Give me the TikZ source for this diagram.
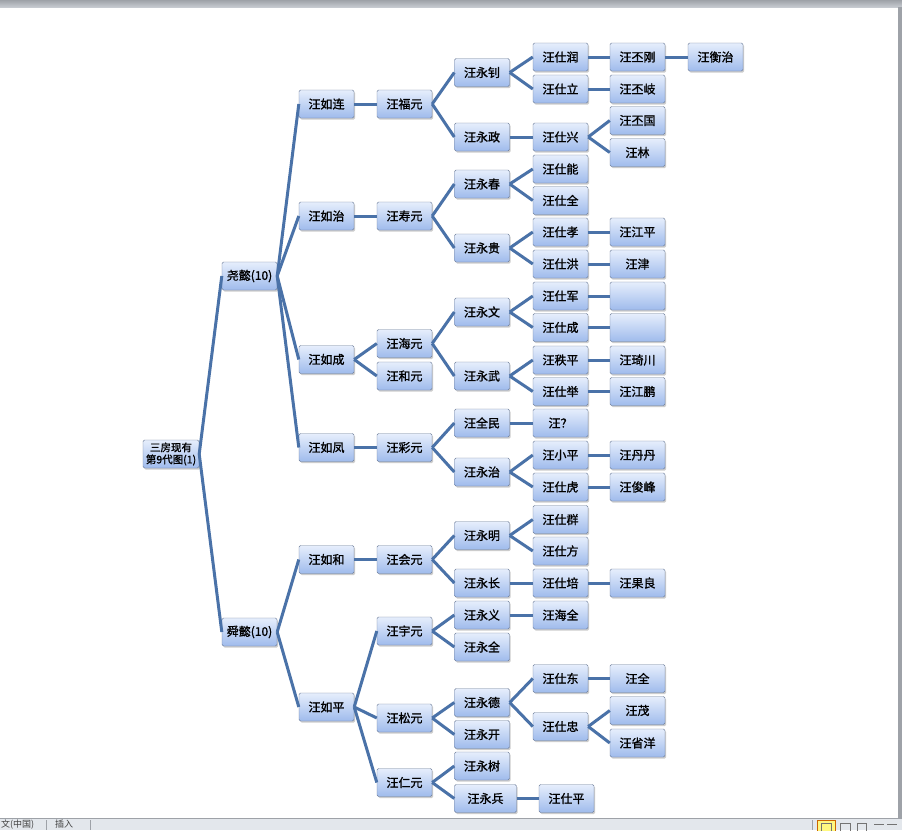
\documentclass[tikz,border=0pt]{standalone}
\usepackage{fontspec}
\newfontfamily\cjk[FakeBold=1.2]{Noto Sans CJK SC}
\newfontfamily\cjkplain{Noto Sans CJK SC}
\usepackage{tikz}
\usetikzlibrary{shadows}
\definecolor{linkblue}{HTML}{4A72A8}
\definecolor{boxtop}{HTML}{E6EEFC}
\definecolor{boxbot}{HTML}{9FBBEC}
\definecolor{boxline}{HTML}{6D7D99}
\definecolor{framegray}{HTML}{C6CAD0}
\definecolor{framedark}{HTML}{9EA2A8}
\definecolor{barfill}{HTML}{E3E7EC}
\begin{document}
\begin{tikzpicture}[x=1pt,y=-1pt,
  person/.style={draw=boxline,rounded corners=1.5pt,top color=boxtop,bottom color=boxbot,
    minimum width=55pt,minimum height=28pt,inner sep=0pt,
    drop shadow={shadow xshift=1.2pt,shadow yshift=-1.6pt,opacity=0.4},
    font=\cjk\fontsize{12}{14}\selectfont},
  rootbox/.style={person,minimum width=56pt,align=center,font=\cjk\fontsize{10.5}{12}\selectfont},
  link/.style={draw=linkblue,line width=3pt}]
  \useasboundingbox (0,0) rectangle (902,830);
  \clip (0,0) rectangle (902,830);
  \fill[white] (0,0) rectangle (902,830);
  \shade[top color=framedark,bottom color=framegray] (0,0) rectangle (902,7);
  \fill[framedark] (898,7) rectangle (902,818);
  \fill[barfill] (0,818) rectangle (902,830);
  \draw[framedark,line width=1pt] (0,818) -- (902,818);
  \draw[framedark] (46,820) -- (46,830) (90,820) -- (90,830) (812,820) -- (812,830);
  \node[anchor=west,inner sep=0pt,font=\cjkplain\fontsize{9}{10}\selectfont,text=black!75] (lang) at (1,824.5) {文(中国)};
  \node[anchor=west,inner sep=0pt,font=\cjkplain\fontsize{9}{10}\selectfont,text=black!75] (mode) at (55,824.5) {插入};
  \draw[orange!80!black,fill=yellow!50] (817,820) rectangle (835,832);
  \draw[black!55] (821,823) rectangle (831,832) (840,823) rectangle (850,832)
    (857,823) rectangle (866,832) (874,824) -- (884,824) (887,824) -- (897,824);

  \node[rootbox] (root) at (171,454) {三房现有\\第9代图(1)};
  \node[person] (yaoyi) at (249.5,276) {尧懿(10)};
  \node[person] (shunyi) at (249.5,632) {舜懿(10)};

  \node[person] (rulian) at (326.5,104) {汪如连};
  \node[person] (ruzhi) at (326.5,216) {汪如治};
  \node[person] (rucheng) at (326.5,359.5) {汪如成};
  \node[person] (rufeng) at (326.5,447.5) {汪如凤};
  \node[person] (ruhe) at (326.5,559.5) {汪如和};
  \node[person] (ruping) at (326.5,707) {汪如平};

  \node[person] (fuyuan) at (404.5,104) {汪福元};
  \node[person] (shouyuan) at (404.5,216) {汪寿元};
  \node[person] (haiyuan) at (404.5,343.5) {汪海元};
  \node[person] (heyuan) at (404.5,376) {汪和元};
  \node[person] (caiyuan) at (404.5,447.5) {汪彩元};
  \node[person] (huiyuan) at (404.5,559.5) {汪会元};
  \node[person] (yuyuan) at (404.5,631) {汪宇元};
  \node[person] (songyuan) at (404.5,718) {汪松元};
  \node[person] (renyuan) at (404.5,782.5) {汪仁元};

  \node[person] (yongzhao) at (482,72.5) {汪永钊};
  \node[person] (yongzheng) at (482,137) {汪永政};
  \node[person] (yongchun) at (482,184) {汪永春};
  \node[person] (yonggui) at (482,248) {汪永贵};
  \node[person] (yongwen) at (482,312) {汪永文};
  \node[person] (yongwu) at (482,376) {汪永武};
  \node[person] (quanmin) at (482,423) {汪全民};
  \node[person] (yongzhi) at (482,472) {汪永治};
  \node[person] (yongming) at (482,535.5) {汪永明};
  \node[person] (yongchang) at (482,583) {汪永长};
  \node[person] (yongyi) at (482,615) {汪永义};
  \node[person] (yongquan) at (482,647) {汪永全};
  \node[person] (yongde) at (482,702.5) {汪永德};
  \node[person] (yongkai) at (482,734.5) {汪永开};
  \node[person] (yongshu) at (482,766) {汪永树};
  \node[person,minimum width=62pt] (yongbing) at (485.5,798.5) {汪永兵};

  \node[person] (shirun) at (560.5,57) {汪仕润};
  \node[person] (shili) at (560.5,89) {汪仕立};
  \node[person] (shixing) at (560.5,137) {汪仕兴};
  \node[person] (shineng) at (560.5,169) {汪仕能};
  \node[person] (shiquan) at (560.5,200.5) {汪仕全};
  \node[person] (shixiao) at (560.5,232) {汪仕孝};
  \node[person] (shihong) at (560.5,264) {汪仕洪};
  \node[person] (shijun) at (560.5,296) {汪仕军};
  \node[person] (shicheng) at (560.5,327.5) {汪仕成};
  \node[person] (zhiping) at (560.5,360) {汪秩平};
  \node[person] (shiju) at (560.5,391.5) {汪仕举};
  \node[person] (unknown) at (560.5,423) {汪？};
  \node[person] (xiaoping) at (560.5,455) {汪小平};
  \node[person] (shihu) at (560.5,487) {汪仕虎};
  \node[person] (shiqun) at (560.5,519.5) {汪仕群};
  \node[person] (shifang) at (560.5,551) {汪仕方};
  \node[person] (shipei) at (560.5,583) {汪仕培};
  \node[person] (haiquan) at (560.5,615) {汪海全};
  \node[person] (shidong) at (560.5,678.5) {汪仕东};
  \node[person] (shizhong) at (560.5,726.5) {汪仕忠};
  \node[person] (shiping) at (566.5,798.5) {汪仕平};

  \node[person] (pigang) at (637.5,57) {汪丕刚};
  \node[person] (piqi) at (637.5,89) {汪丕岐};
  \node[person] (piguo) at (637.5,120.5) {汪丕国};
  \node[person] (lin) at (637.5,152.5) {汪林};
  \node[person] (jiangping) at (637.5,232) {汪江平};
  \node[person] (jin) at (637.5,264) {汪津};
  \node[person] (blanka) at (637.5,296) {};
  \node[person] (blankb) at (637.5,327.5) {};
  \node[person] (qichuan) at (637.5,360) {汪琦川};
  \node[person] (jiangpeng) at (637.5,391.5) {汪江鹏};
  \node[person] (dandan) at (637.5,455) {汪丹丹};
  \node[person] (junfeng) at (637.5,487) {汪俊峰};
  \node[person] (guoliang) at (637.5,583) {汪果良};
  \node[person] (quan) at (637.5,678.5) {汪全};
  \node[person] (mao) at (637.5,710.5) {汪茂};
  \node[person] (shengyang) at (637.5,743) {汪省洋};

  \node[person] (hengzhi) at (715.5,57) {汪衡治};

  \foreach \a/\b in {root/yaoyi,root/shunyi,
      yaoyi/rulian,yaoyi/ruzhi,yaoyi/rucheng,yaoyi/rufeng,shunyi/ruhe,shunyi/ruping,
      rulian/fuyuan,ruzhi/shouyuan,rucheng/haiyuan,rucheng/heyuan,rufeng/caiyuan,
      ruhe/huiyuan,ruping/yuyuan,ruping/songyuan,ruping/renyuan,
      fuyuan/yongzhao,fuyuan/yongzheng,shouyuan/yongchun,shouyuan/yonggui,
      haiyuan/yongwen,haiyuan/yongwu,caiyuan/quanmin,caiyuan/yongzhi,
      huiyuan/yongming,huiyuan/yongchang,yuyuan/yongyi,yuyuan/yongquan,
      songyuan/yongde,songyuan/yongkai,renyuan/yongshu,renyuan/yongbing,
      yongzhao/shirun,yongzhao/shili,yongzheng/shixing,yongchun/shineng,yongchun/shiquan,
      yonggui/shixiao,yonggui/shihong,yongwen/shijun,yongwen/shicheng,
      yongwu/zhiping,yongwu/shiju,quanmin/unknown,yongzhi/xiaoping,yongzhi/shihu,
      yongming/shiqun,yongming/shifang,yongchang/shipei,yongyi/haiquan,
      yongde/shidong,yongde/shizhong,yongbing/shiping,
      shirun/pigang,shili/piqi,shixing/piguo,shixing/lin,shixiao/jiangping,shihong/jin,
      shijun/blanka,shicheng/blankb,zhiping/qichuan,shiju/jiangpeng,
      xiaoping/dandan,shihu/junfeng,shipei/guoliang,shidong/quan,
      shizhong/mao,shizhong/shengyang,pigang/hengzhi}
    \draw[link] (\a.east) -- (\b.west);
\end{tikzpicture}
\end{document}
